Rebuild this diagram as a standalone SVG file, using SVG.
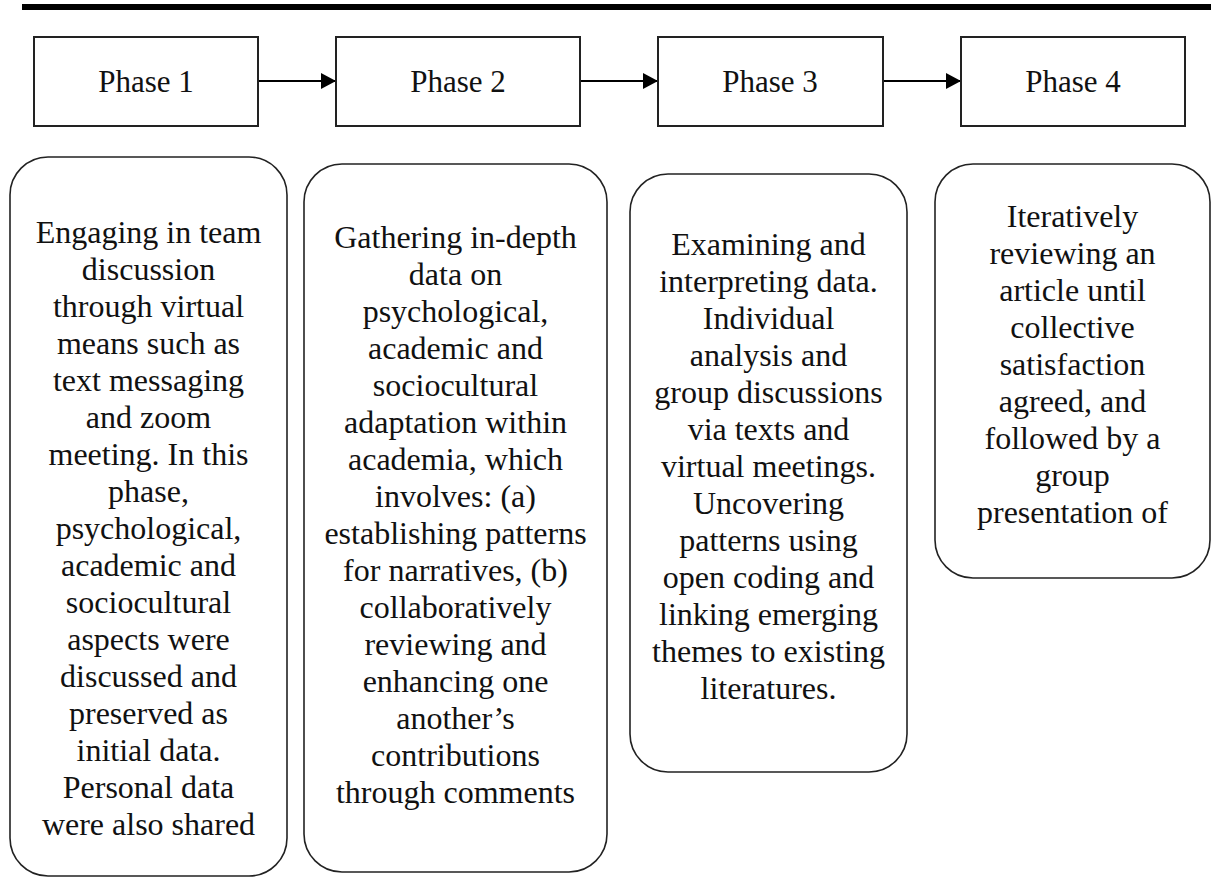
<svg xmlns="http://www.w3.org/2000/svg" width="1211" height="877" viewBox="0 0 1211 877">
<style>
.bg{fill:#fff}
.rule{stroke:#000;stroke-width:6}
.phase{fill:#fff;stroke:#222;stroke-width:2}
.card{fill:#fff;stroke:#222;stroke-width:1.6}
.conn{stroke:#000;stroke-width:2;fill:none}
text{font-family:"Liberation Serif","Times New Roman",serif;font-size:32px;fill:#111;text-anchor:middle}
text.ph{font-size:31px}
</style>
<defs>
<marker id="ah" viewBox="0 0 15 16" refX="15" refY="8" markerWidth="15" markerHeight="16" markerUnits="userSpaceOnUse" orient="auto">
<path d="M0,0 L15,8 L0,16 Z" fill="#000"/>
</marker>
</defs>
<rect class="bg" x="0" y="0" width="1211" height="877"/>
<line class="rule" x1="22" y1="7" x2="1211" y2="7"/>
<g id="connectors">
<line class="conn" x1="258" y1="81" x2="336" y2="81" marker-end="url(#ah)"/>
<line class="conn" x1="580" y1="81" x2="658" y2="81" marker-end="url(#ah)"/>
<line class="conn" x1="883" y1="81" x2="961" y2="81" marker-end="url(#ah)"/>
</g>
<g id="phase1"><rect class="phase" x="34" y="37" width="224" height="89"/><text class="ph" x="146" y="92">Phase 1</text></g>
<g id="phase2"><rect class="phase" x="336" y="37" width="244" height="89"/><text class="ph" x="458" y="92">Phase 2</text></g>
<g id="phase3"><rect class="phase" x="658" y="37" width="225" height="89"/><text class="ph" x="770" y="92">Phase 3</text></g>
<g id="phase4"><rect class="phase" x="961" y="37" width="224" height="89"/><text class="ph" x="1073" y="92">Phase 4</text></g>
<g id="desc1"><rect class="card" x="10" y="157" width="277" height="719" rx="38" ry="38"/>
<text x="148.5" y="243">Engaging in team</text>
<text x="148.5" y="280">discussion</text>
<text x="148.5" y="317">through virtual</text>
<text x="148.5" y="354">means such as</text>
<text x="148.5" y="391">text messaging</text>
<text x="148.5" y="428">and zoom</text>
<text x="148.5" y="465">meeting. In this</text>
<text x="148.5" y="502">phase,</text>
<text x="148.5" y="539">psychological,</text>
<text x="148.5" y="576">academic and</text>
<text x="148.5" y="613">sociocultural</text>
<text x="148.5" y="650">aspects were</text>
<text x="148.5" y="687">discussed and</text>
<text x="148.5" y="724">preserved as</text>
<text x="148.5" y="761">initial data.</text>
<text x="148.5" y="798">Personal data</text>
<text x="148.5" y="835">were also shared</text>
</g>
<g id="desc2"><rect class="card" x="304" y="164" width="303" height="708" rx="38" ry="38"/>
<text x="455.5" y="248">Gathering in-depth</text>
<text x="455.5" y="285">data on</text>
<text x="455.5" y="322">psychological,</text>
<text x="455.5" y="359">academic and</text>
<text x="455.5" y="396">sociocultural</text>
<text x="455.5" y="433">adaptation within</text>
<text x="455.5" y="470">academia, which</text>
<text x="455.5" y="507">involves: (a)</text>
<text x="455.5" y="544">establishing patterns</text>
<text x="455.5" y="581">for narratives, (b)</text>
<text x="455.5" y="618">collaboratively</text>
<text x="455.5" y="655">reviewing and</text>
<text x="455.5" y="692">enhancing one</text>
<text x="455.5" y="729">another’s</text>
<text x="455.5" y="766">contributions</text>
<text x="455.5" y="803">through comments</text>
</g>
<g id="desc3"><rect class="card" x="630" y="174" width="277" height="598" rx="38" ry="38"/>
<text x="768.5" y="255">Examining and</text>
<text x="768.5" y="292">interpreting data.</text>
<text x="768.5" y="329">Individual</text>
<text x="768.5" y="366">analysis and</text>
<text x="768.5" y="403">group discussions</text>
<text x="768.5" y="440">via texts and</text>
<text x="768.5" y="477">virtual meetings.</text>
<text x="768.5" y="514">Uncovering</text>
<text x="768.5" y="551">patterns using</text>
<text x="768.5" y="588">open coding and</text>
<text x="768.5" y="625">linking emerging</text>
<text x="768.5" y="662">themes to existing</text>
<text x="768.5" y="699">literatures.</text>
</g>
<g id="desc4"><rect class="card" x="935" y="164" width="275" height="414" rx="38" ry="38"/>
<text x="1072.5" y="227">Iteratively</text>
<text x="1072.5" y="264">reviewing an</text>
<text x="1072.5" y="301">article until</text>
<text x="1072.5" y="338">collective</text>
<text x="1072.5" y="375">satisfaction</text>
<text x="1072.5" y="412">agreed, and</text>
<text x="1072.5" y="449">followed by a</text>
<text x="1072.5" y="486">group</text>
<text x="1072.5" y="523">presentation of</text>
</g>
</svg>
